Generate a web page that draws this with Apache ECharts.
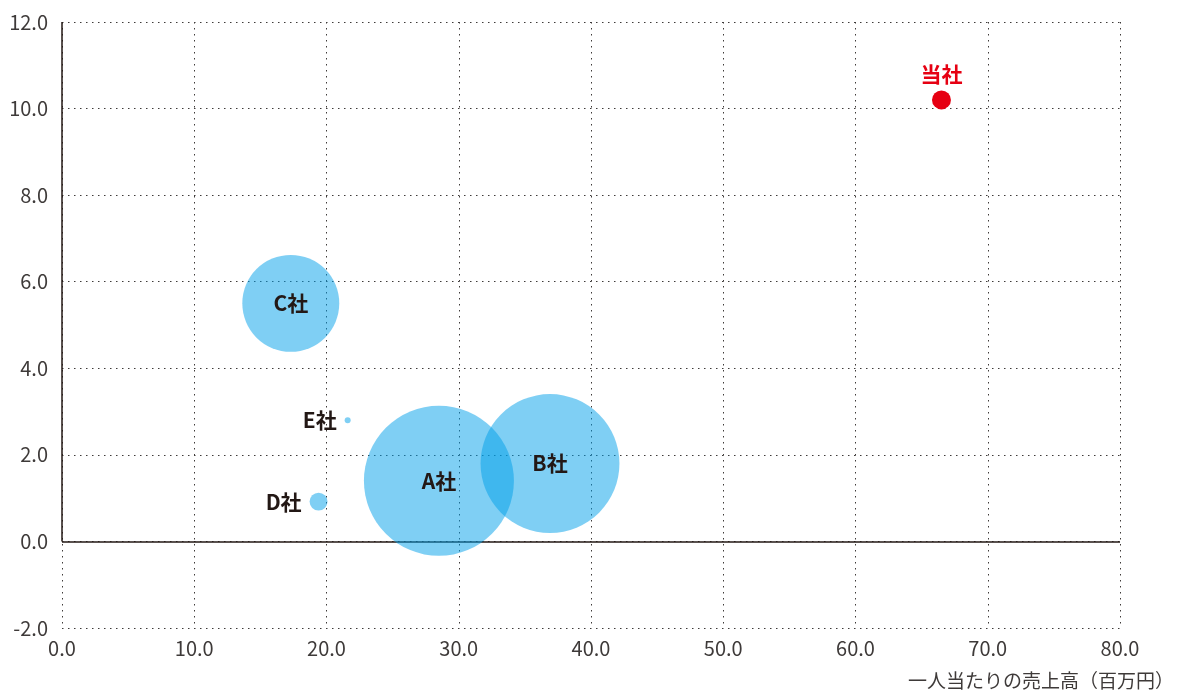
<!DOCTYPE html>
<html>
<head>
<meta charset="utf-8">
<script src="https://cdn.jsdelivr.net/npm/echarts@6/dist/echarts.min.js"></script>
<style>
html,body{margin:0;padding:0;background:#fff;}
#main{width:1179px;height:695px;}
</style>
</head>
<body>
<div id="main"></div>
<script>
// 会社名, 一人当たり売上高(x), y値, バブルの大きさ
const names = ['A社', 'B社', 'C社', 'D社', 'E社', '当社'];
const salesPer = [28.5, 36.9, 17.3, 19.4, 21.6, 66.5];
const yValues = [1.4, 1.8, 5.5, 0.92, 2.8, 10.2];
const bubbleVals = [225, 193, 94, 3.2, 0.36, 3.6];
const xTicks = ['0.0','10.0','20.0','30.0','40.0','50.0','60.0','70.0','80.0'];
const xTitle = '一人当たりの売上高（百万円）';

const fontCJK = '"Noto Sans CJK JP", "Noto Sans", sans-serif';
const txtColor = '#3e3a39';
const dotted = {type: [1.5, 4.5], color: '#3e3a39', width: 1};

const data = names.map(function(n, i){
    const own = n === '当社';
    let pos = 'inside';
    if (n === 'D社' || n === 'E社') pos = 'left';
    if (own) pos = 'top';
    return {
        name: n,
        value: [salesPer[i], yValues[i], bubbleVals[i]],
        itemStyle: own ? {color: '#e60012', opacity: 1} : {color: 'rgba(0,160,233,0.5)', opacity: 1},
        label: {
            show: true,
            position: pos,
            distance: own ? 6 : 8,
            formatter: '{b}',
            color: own ? '#e60012' : '#231815',
            fontSize: 21,
            fontWeight: 'bold',
            fontFamily: fontCJK
        }
    };
});

const chart = echarts.init(document.getElementById('main'));
const option = {
    animation: false,
    grid: {left: 62, right: 59, top: 22, bottom: 67, containLabel: false},
    title: {
        text: xTitle, right: 0, bottom: 0,
        textStyle: {fontSize: 19, fontWeight: 'normal', color: txtColor, fontFamily: fontCJK}
    },
    xAxis: {
        type: 'value', min: 0, max: 80, interval: 10,
        axisLine: {show: false, onZero: false},
        axisTick: {show: false},
        axisLabel: {
            margin: 10, fontSize: 20, color: txtColor, fontFamily: fontCJK,
            formatter: function(v){ return xTicks[Math.round(v / 10)]; }
        },
        splitLine: {show: true, lineStyle: dotted}
    },
    yAxis: {
        type: 'value', min: -2, max: 12, interval: 2,
        axisLine: {show: false, onZero: false},
        axisTick: {show: false},
        axisLabel: {
            margin: 14, fontSize: 20, color: txtColor, fontFamily: fontCJK,
            formatter: function(v){ return v.toFixed(1); }
        },
        splitLine: {show: true, lineStyle: dotted}
    },
    series: [{
        type: 'scatter',
        data: data,
        symbolSize: function(v){ return Math.sqrt(v[2]) * 10; },
        z: 3,
        markLine: {
            silent: true,
            symbol: 'none',
            z: 1,
            label: {show: false},
            lineStyle: {type: 'solid', color: '#231815', width: 1.5},
            data: [
                {yAxis: 0},
                [{coord: [0, 0]}, {coord: [0, 12]}]
            ]
        }
    }]
};
chart.setOption(option);
</script>
</body>
</html>
